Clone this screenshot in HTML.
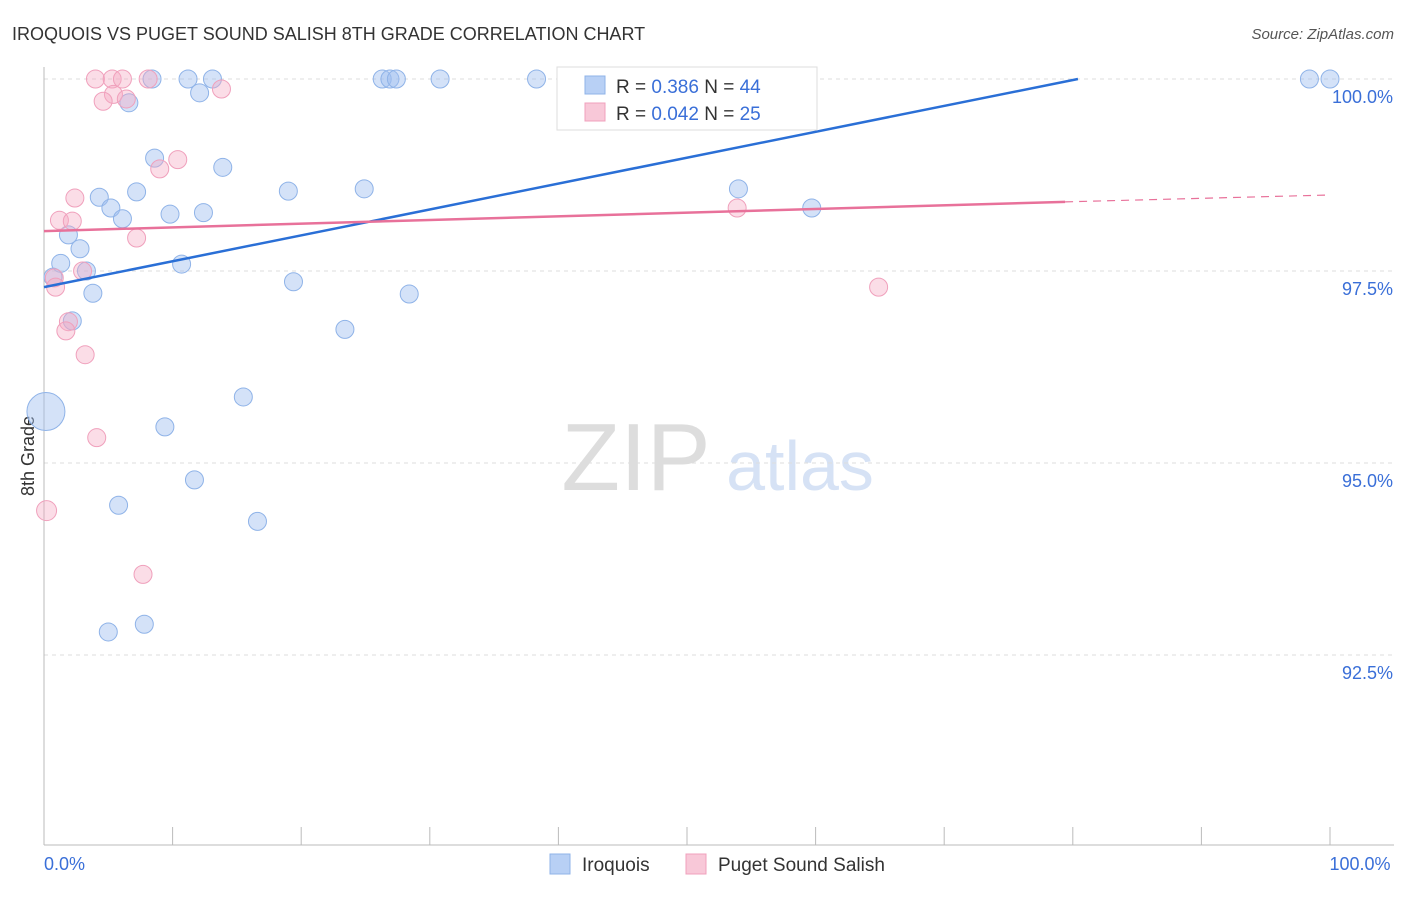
<!DOCTYPE html>
<html><head><meta charset="utf-8"><style>
body{margin:0;background:#fff;font-family:"Liberation Sans",sans-serif}
svg text{font-family:"Liberation Sans",sans-serif}
</style></head><body>
<svg id="c" width="1406" height="892" xmlns="http://www.w3.org/2000/svg">
<text x="12" y="40" font-size="18" fill="#333">IROQUOIS VS PUGET SOUND SALISH 8TH GRADE CORRELATION CHART</text>
<text x="1394" y="39" font-size="15" fill="#555" text-anchor="end" font-style="italic">Source: ZipAtlas.com</text>
<text x="636" y="490" font-size="96" fill="#ddd" font-family="Liberation Serif" text-anchor="middle">ZIP</text>
<text x="800" y="490" font-size="70" fill="#d6e2f5" text-anchor="middle">atlas</text>
<text transform="translate(34,456) rotate(-90)" font-size="18" fill="#333" text-anchor="middle">8th Grade</text>
<g id="grid"></g><g id="pts"></g><g id="lines"></g>
<g>
<rect x="557" y="67" width="260" height="63" fill="#fff" stroke="#ddd"/>
<rect x="585" y="76" width="20" height="18" fill="#b8d0f5" stroke="#8fb3e8"/>
<rect x="585" y="103" width="20" height="18" fill="#f8c8d8" stroke="#f0a0bc"/>
<text x="616" y="93" font-size="19" fill="#333">R = <tspan fill="#3a6fd8">0.386</tspan>   N = <tspan fill="#3a6fd8">44</tspan></text>
<text x="616" y="120" font-size="19" fill="#333">R = <tspan fill="#3a6fd8">0.042</tspan>   N = <tspan fill="#3a6fd8">25</tspan></text>
</g>
<g>
<rect x="550" y="854" width="20" height="20" fill="#b8d0f5" stroke="#8fb3e8"/>
<text x="582" y="871" font-size="19" fill="#333">Iroquois</text>
<rect x="686" y="854" width="20" height="20" fill="#f8c8d8" stroke="#f0a0bc"/>
<text x="718" y="871" font-size="19" fill="#333">Puget Sound Salish</text>
</g>
</svg>
<script>
const yTicks=[100,97.5,95,92.5];
const yTickLabels=["100.0%","97.5%","95.0%","92.5%"];
const xTickLabels=["0.0%","100.0%"];
const blueX=[8.4,11.2,13.1,26.3,26.9,27.4,30.8,38.3,43.8,98.4,100,12.1,6.6,8.6,13.9,4.3,7.2,19.0,24.9,54.0,59.7,5.2,9.8,12.4,6.1,1.9,2.8,1.3,3.3,10.7,0.7,19.4,3.8,28.4,2.2,23.4,15.5,0.15,9.4,11.7,5.8,16.6,7.8,5.0];
const blueY=[100,100,100,100,100,100,100,100,100,100,100,99.82,99.69,98.97,98.85,98.46,98.53,98.54,98.57,98.57,98.32,98.32,98.24,98.26,98.18,97.97,97.79,97.60,97.50,97.59,97.42,97.36,97.21,97.20,96.85,96.74,95.86,95.67,95.47,94.78,94.45,94.24,92.90,92.80];
const blueR=blueX.map((v,i)=>i===37?19:9);
const pinkX=[4.0,5.3,6.1,8.1,5.4,4.6,6.4,13.8,10.4,9.0,2.4,1.2,2.2,7.2,3.0,0.8,0.9,1.9,1.7,3.2,4.1,0.2,7.7,53.9,64.9];
const pinkY=[100,100,100,100,99.80,99.71,99.74,99.87,98.95,98.83,98.45,98.16,98.15,97.93,97.50,97.41,97.29,96.84,96.72,96.41,95.33,94.38,93.55,98.32,97.29];
const pinkR=pinkX.map((v,i)=>i===21?10:9);
const blueLine=[[0,97.29],[80.4,100]];
const pinkLine=[[0,98.02],[79.4,98.40],[100,98.49]];
const NS="http://www.w3.org/2000/svg";
const xs=v=>44+v*12.86, ys=v=>79+(100-v)/2.5*192;
function mk(t,a,p){const e=document.createElementNS(NS,t);for(const k in a)e.setAttribute(k,a[k]);p.appendChild(e);return e;}
const g=document.getElementById('grid');
yTicks.forEach((t,i)=>{
 const l=mk('line',{x1:44,x2:1394,y1:ys(t),y2:ys(t),stroke:'#ddd','stroke-dasharray':'4,4'},g);
 
 
 const tx=mk('text',{x:1393,y:ys(t)+24,'font-size':18,fill:'#3a6fd8','text-anchor':'end'},g);
 tx.textContent=yTickLabels[i];
 
 
});
const ax=mk('line',{x1:44,x2:44,y1:67,y2:845,stroke:'#bbb'},g);


const bx=mk('line',{x1:44,x2:1394,y1:845,y2:845,stroke:'#bbb'},g);


for(let i=0;i<=10;i++){const t=mk('line',{x1:xs(i*10),x2:xs(i*10),y1:827,y2:845,stroke:'#bbb'},g);
 
 }
[[0,'start',xTickLabels[0]],[100,'middle',xTickLabels[1]]].forEach(([v,a,s])=>{
 const t=mk('text',{x:v===0?44:1360,y:870,'font-size':18,fill:'#3a6fd8','text-anchor':a},g);t.textContent=s;
 
 });
const p=document.getElementById('pts');
blueX.forEach((x,i)=>{const c=mk('circle',{cx:xs(x),cy:ys(blueY[i]),r:blueR[i],fill:'rgba(160,190,240,0.45)',stroke:'#8fb3e8','stroke-width':1},p);
 
 });
pinkX.forEach((x,i)=>{const c=mk('circle',{cx:xs(x),cy:ys(pinkY[i]),r:pinkR[i],fill:'rgba(245,170,195,0.4)',stroke:'#f0a0bc','stroke-width':1},p);
 
 });
const L=document.getElementById('lines');
const bl=mk('line',{x1:xs(blueLine[0][0]),y1:ys(blueLine[0][1]),x2:xs(blueLine[1][0]),y2:ys(blueLine[1][1]),stroke:'#2a6fd6','stroke-width':2.5},L);


const pl=mk('line',{x1:xs(pinkLine[0][0]),y1:ys(pinkLine[0][1]),x2:xs(pinkLine[1][0]),y2:ys(pinkLine[1][1]),stroke:'#e8719a','stroke-width':2.5},L);


const pd=mk('line',{x1:xs(pinkLine[1][0]),y1:ys(pinkLine[1][1]),x2:xs(pinkLine[2][0]),y2:ys(pinkLine[2][1]),stroke:'#e8719a','stroke-width':1.2,'stroke-dasharray':'8,6'},L);


</script>
</body></html>
